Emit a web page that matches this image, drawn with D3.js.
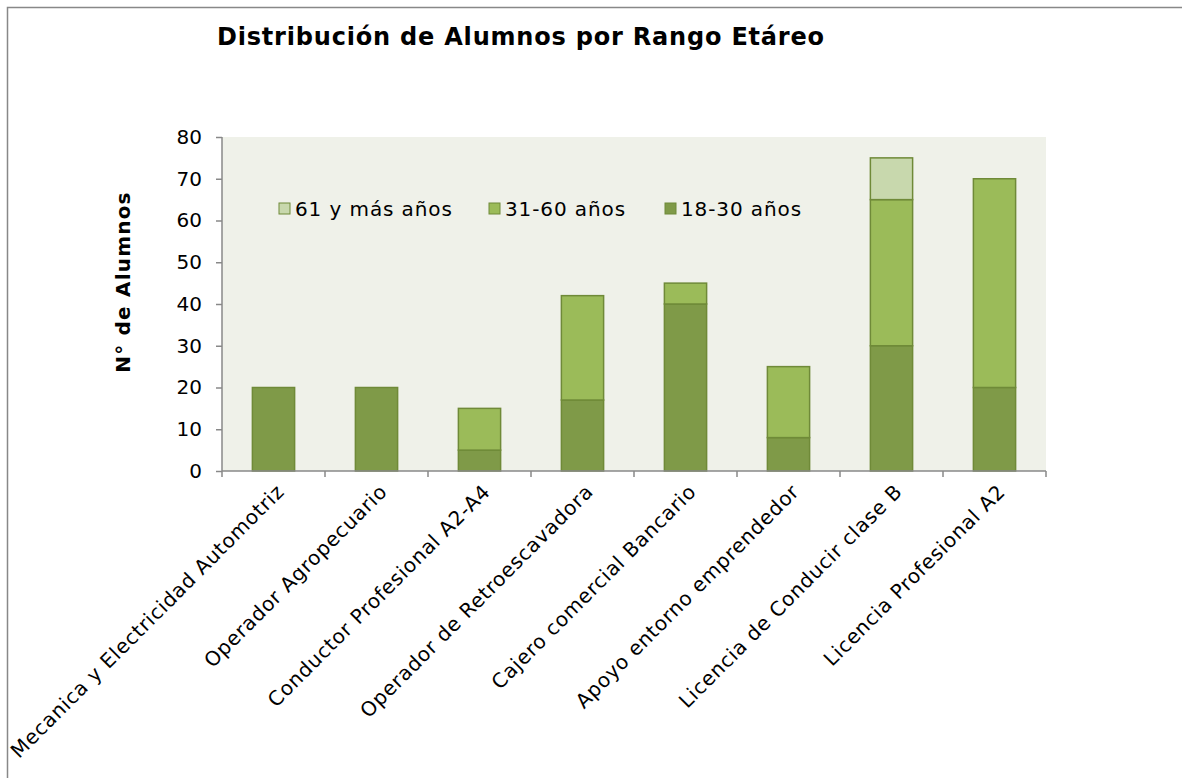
<!DOCTYPE html>
<html>
<head>
<meta charset="utf-8">
<script src="https://cdn.jsdelivr.net/npm/d3@7"></script>
<style>
  body { margin: 0; background: #fff; }
  svg { display: block; font-family: "DejaVu Sans", Verdana, sans-serif; }
</style>
</head>
<body>
<svg id="chart" width="1182" height="778"></svg>
<script>
// data
let cursos = ["Mecanica y Electricidad Automotriz", "Operador Agropecuario",
  "Conductor Profesional A2-A4", "Operador de Retroescavadora",
  "Cajero comercial Bancario", "Apoyo entorno emprendedor",
  "Licencia de Conducir clase B", "Licencia Profesional A2"];
let rango18a30 = [20, 20, 5, 17, 40, 8, 30, 20];
let rango31a60 = [0, 0, 10, 25, 5, 17, 35, 50];
let rango61mas = [0, 0, 0, 0, 0, 0, 10, 0];
let yTicks = [0, 10, 20, 30, 40, 50, 60, 70, 80];

let series = [
  {name: "18-30 años", values: rango18a30, color: "#7f9a48"},
  {name: "31-60 años", values: rango31a60, color: "#9bbb59"},
  {name: "61 y más años", values: rango61mas, color: "#c8d8ad"}
];

let svg = d3.select("#chart");
let plot = {left: 222, right: 1046, top: 137, bottom: 471};

// outer frame (cut at right/bottom like the original)
svg.append("path")
  .attr("d", "M7.5,778 V7.5 H1182")
  .attr("fill", "none")
  .attr("stroke", "#888")
  .attr("stroke-width", 1.5);

svg.append("rect")
  .attr("x", plot.left).attr("y", plot.top)
  .attr("width", plot.right - plot.left).attr("height", plot.bottom - plot.top)
  .attr("fill", "#eff1e9");

let x = d3.scaleBand().domain(cursos).range([plot.left, plot.right]).paddingInner(0.59).paddingOuter(0.295);
let xb = d3.scaleBand().domain(cursos).range([plot.left, plot.right]);
let y = d3.scaleLinear().domain([0, 80]).range([plot.bottom, plot.top]);

// stacked bars
let tabla = cursos.map((c, i) => {
  let row = {curso: c};
  series.forEach(s => row[s.name] = s.values[i]);
  return row;
});
let stack = d3.stack().keys(series.map(s => s.name))(tabla);

svg.append("g").selectAll("g")
  .data(stack)
  .join("g")
  .attr("fill", (d, i) => series[i].color)
  .selectAll("rect")
  .data(d => d.filter(p => p[1] > p[0]))
  .join("rect")
  .attr("x", d => x(d.data.curso))
  .attr("y", d => y(d[1]))
  .attr("width", x.bandwidth())
  .attr("height", d => y(d[0]) - y(d[1]))
  .attr("stroke", "#6f8a38")
  .attr("stroke-width", 1.5);

// y axis
let yAxis = svg.append("g")
  .attr("transform", `translate(${plot.left},0)`)
  .call(d3.axisLeft(y).tickValues(yTicks).tickSize(6).tickPadding(14));
yAxis.selectAll("line, path").attr("stroke", "#888").attr("stroke-width", 1.5);
yAxis.select(".domain").attr("d", `M0,${plot.top}V${plot.bottom}`);
yAxis.selectAll("text").attr("font-size", 20).attr("fill", "#000")
  .attr("font-family", "DejaVu Sans");

// x axis with ticks at category boundaries
let xAxis = svg.append("g");
xAxis.append("line")
  .attr("x1", plot.left).attr("x2", plot.right)
  .attr("y1", plot.bottom).attr("y2", plot.bottom)
  .attr("stroke", "#888").attr("stroke-width", 1.5);
xAxis.selectAll("line.tick")
  .data(cursos.map(c => xb(c)).concat([plot.right]))
  .join("line")
  .attr("class", "tick")
  .attr("x1", d => d).attr("x2", d => d)
  .attr("y1", plot.bottom).attr("y2", plot.bottom + 6)
  .attr("stroke", "#888").attr("stroke-width", 1.5);
xAxis.selectAll("text")
  .data(cursos)
  .join("text")
  .attr("transform", d => `translate(${xb(d) + xb.bandwidth() / 2 + 2},${plot.bottom + 12}) rotate(-45)`)
  .attr("text-anchor", "end")
  .attr("dy", "0.7em")
  .attr("font-size", 20)
  .attr("letter-spacing", 0.7)
  .text(d => d);

// y axis title
svg.append("text")
  .attr("transform", `translate(130,282) rotate(-90)`)
  .attr("text-anchor", "middle")
  .attr("font-size", 20)
  .attr("letter-spacing", 1.2)
  .attr("font-weight", "bold")
  .text("N° de Alumnos");

// chart title
svg.append("text")
  .attr("x", 217).attr("y", 45)
  .attr("font-size", 24)
  .attr("letter-spacing", 0.8)
  .attr("font-weight", "bold")
  .text("Distribución de Alumnos por Rango Etáreo");

// legend (reverse order, like the source)
let leyenda = [
  {s: series[2], x: 279},
  {s: series[1], x: 489},
  {s: series[0], x: 665}
];
let lg = svg.append("g").selectAll("g").data(leyenda).join("g")
  .attr("transform", d => `translate(${d.x},209)`);
lg.append("rect")
  .attr("x", 0).attr("y", -6).attr("width", 11).attr("height", 11)
  .attr("fill", d => d.s.color).attr("stroke", "#6f8a38").attr("stroke-width", 1);
lg.append("text")
  .attr("x", 16).attr("y", 7)
  .attr("font-size", 20)
  .attr("letter-spacing", 0.9)
  .text(d => d.s.name);
</script>
</body>
</html>
